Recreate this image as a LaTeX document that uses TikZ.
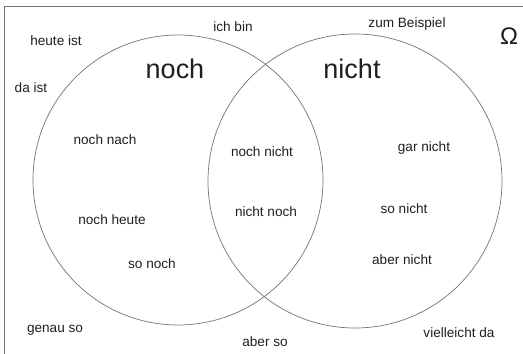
\documentclass[tikz,border=0pt]{standalone}
\usepackage{fontspec}
\setmainfont{Liberation Sans}
\usepackage{tikz}
\usetikzlibrary{positioning}
\definecolor{rimgray}{gray}{0.45}
\definecolor{txtgray}{gray}{0.12}
\tikzset{
  word/.style={text=txtgray, font=\fontsize{13.6}{15}\selectfont, inner sep=0pt},
  bigword/.style={text=txtgray, font=\fontsize{27}{30}\selectfont, inner sep=0pt},
  rim/.style={draw=rimgray, line width=0.7pt}
}
\begin{document}
\begin{tikzpicture}[x=1pt, y=-1pt]
  \useasboundingbox (0,0) rectangle (523,354);
  \clip (0,0) rectangle (523,354);
  \draw[rim] (4,6) rectangle (530,362);
  \draw[rim] (178,180) circle[radius=145];
  \draw[rim] (355,181) circle[radius=147];
  \node[bigword] (noch) at (175,69) {noch};
  \node[bigword] (nicht) at (352,69) {nicht};
  \node[text=txtgray, font=\fontsize{24}{26}\selectfont, inner sep=0pt] (omega) at (509,36) {Ω};
  \node[word] (heuteist) at (56,41) {heute ist};
  \node[word] (ichbin) at (233,27) {ich bin};
  \node[word] (zumbsp) at (407,24) {zum Beispiel};
  \node[word] (daist) at (31,88) {da ist};
  \node[word] (nochnach) at (105,140) {noch nach};
  \node[word] (nochnicht) at (262,152) {noch nicht};
  \node[word] (garnicht) at (424,148) {gar nicht};
  \node[word] (nichtnoch) at (266,212) {nicht noch};
  \node[word] (sonicht) at (404,209) {so nicht};
  \node[word] (nochheute) at (112,220) {noch heute};
  \node[word] (sonoch) at (152,264) {so noch};
  \node[word] (abernicht) at (402,260) {aber nicht};
  \node[word] (genauso) at (55,330) {genau so};
  \node[word] (aberso) at (265,342) {aber so};
  \node[word] (vielleicht) at (459,333) {vielleicht da};
\end{tikzpicture}
\end{document}
